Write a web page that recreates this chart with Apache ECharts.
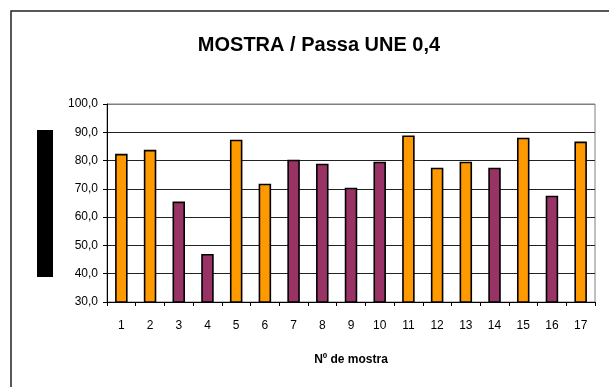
<!DOCTYPE html>
<html>
<head>
<meta charset="utf-8">
<script src="https://cdn.jsdelivr.net/npm/echarts@6/dist/echarts.min.js"></script>
<style>
  html, body { margin: 0; padding: 0; background: #fff; }
  #chart { width: 609px; height: 387px; }
</style>
</head>
<body>
<div id="chart"></div>
<script>
// Sample numbers along the x axis
const mostras = ['1', '2', '3', '4', '5', '6', '7', '8', '9', '10', '11', '12', '13', '14', '15', '16', '17'];
// Percentage passing the UNE 0,4 sieve, per sample
const passa = [82.4, 83.8, 65.5, 47.0, 87.4, 71.8, 80.3, 78.9, 70.4, 79.6, 88.9, 77.5, 79.6, 77.5, 88.1, 67.6, 86.7];
// Group of each sample (0 or 1)
const grupo = [0, 0, 1, 1, 0, 0, 1, 1, 1, 1, 0, 0, 0, 1, 0, 1, 0];
// Y axis tick values
const yTicks = [30, 40, 50, 60, 70, 80, 90, 100];

const groupColors = ['#FF9900', '#993366'];
const font = 'Liberation Sans, Arial, sans-serif';

const chart = echarts.init(document.getElementById('chart'), null, { renderer: 'canvas' });

chart.setOption({
  backgroundColor: '#fff',
  animation: false,
  title: {
    text: 'MOSTRA / Passa UNE 0,4',
    left: 314,
    textAlign: 'center',
    top: 30,
    textStyle: { fontFamily: font, fontSize: 20, fontWeight: 'bold', color: '#000' }
  },
  grid: {
    left: 107, right: 14, top: 104, bottom: 85,
    show: true, borderColor: '#808080', borderWidth: 1, backgroundColor: 'transparent'
  },
  xAxis: {
    type: 'category',
    data: mostras,
    name: 'Nº de mostra',
    nameLocation: 'middle',
    nameGap: 52,
    nameTextStyle: { fontFamily: font, fontSize: 12, fontWeight: 'bold', color: '#000' },
    axisLine: { lineStyle: { color: '#000', width: 1 } },
    axisTick: { show: true, inside: false, length: 4, lineStyle: { color: '#000' } },
    axisLabel: { fontFamily: font, fontSize: 12, color: '#000', margin: 18 },
    splitLine: { show: false }
  },
  yAxis: {
    type: 'value',
    min: yTicks[0],
    max: yTicks[yTicks.length - 1],
    interval: 10,
    axisLine: { show: true, lineStyle: { color: '#000', width: 1 } },
    axisTick: { show: true, inside: false, length: 4, lineStyle: { color: '#000' } },
    axisLabel: {
      fontFamily: font, fontSize: 12, color: '#000', margin: 9,
      formatter: v => v.toFixed(1).replace('.', ',')
    },
    splitLine: {
      show: true,
      lineStyle: { color: ['#000', '#222', '#222', '#222', '#222', '#222', '#222', '#808080'], width: 1 }
    }
  },
  series: [{
    type: 'bar',
    barWidth: 12.5,
    data: passa.map((v, i) => ({
      value: v,
      itemStyle: { color: groupColors[grupo[i]] }
    })),
    itemStyle: { borderColor: '#000', borderWidth: 1.6 },
    label: { show: false }
  }],
  graphic: [
    {
      type: 'rect',
      shape: { x: 11, y: 11, width: 640, height: 420 },
      style: { fill: 'none', stroke: '#222', lineWidth: 1.5 },
      silent: true
    },
    {
      type: 'rect',
      shape: { x: 37, y: 130, width: 16, height: 147 },
      style: { fill: '#000' },
      silent: true
    }
  ]
});
</script>
</body>
</html>
